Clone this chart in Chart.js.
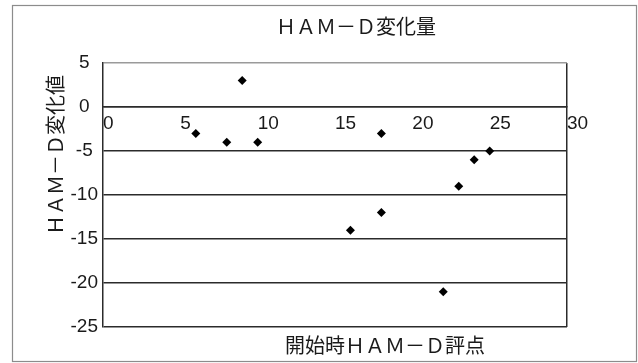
<!DOCTYPE html>
<html lang="ja">
<head>
<meta charset="utf-8">
<script src="https://cdn.jsdelivr.net/npm/chart.js@4/dist/chart.umd.min.js"></script>
<style>
  html, body { margin: 0; padding: 0; background: #fff; }
  canvas { display: block; }
</style>
</head>
<body>
<canvas id="c" width="638" height="363"></canvas>
<script>
// 開始時評点とその変化値（症例ごと）
const baselineScores = [6, 8, 9, 10, 16, 18, 18, 22, 23, 24, 25];
const scoreChanges   = [-3, -4, 3, -4, -14, -3, -12, -21, -9, -6, -5];

// 軸目盛
const xTickValues = [0, 5, 10, 15, 20, 25, 30];
const yTickValues = [5, 0, -5, -10, -15, -20, -25];

// 見出し
const chartTitle = 'ＨＡＭ－Ｄ変化量';
const xAxisTitle = '開始時ＨＡＭ－Ｄ評点';
const yAxisTitle = 'ＨＡＭ－Ｄ変化値';

const points = baselineScores.map((x, i) => ({ x: x, y: scoreChanges[i] }));

const TEXT = '#1a1a1a';
const LINE = '#2b2b2b';
const JP_FONT = '"Noto Sans CJK JP", "Noto Sans", sans-serif';
const NUM_FONT = '"Liberation Sans", Arial, sans-serif';

// 背景・外枠・見出しの描画
const framePlugin = {
  id: 'frame',
  beforeDraw(chart) {
    const ctx = chart.ctx;
    ctx.save();
    ctx.fillStyle = '#ffffff';
    ctx.fillRect(0, 0, chart.width, chart.height);
    ctx.strokeStyle = '#8c8c8c';
    ctx.lineWidth = 1.2;
    ctx.strokeRect(12.5, 5.5, 624, 356);
    ctx.restore();
  },
  afterDraw(chart) {
    const ctx = chart.ctx;
    ctx.save();
    ctx.fillStyle = TEXT;
    ctx.font = '20px ' + JP_FONT;
    ctx.textAlign = 'center';
    ctx.textBaseline = 'middle';
    ctx.fillText(chartTitle, 356, 26);
    ctx.fillText(xAxisTitle, 385, 345);
    ctx.translate(55, 155);
    ctx.rotate(-Math.PI / 2);
    ctx.fillText(yAxisTitle, 0, 0);
    ctx.restore();
  }
};

new Chart(document.getElementById('c'), {
  type: 'scatter',
  data: {
    datasets: [{
      data: points,
      pointStyle: 'rectRot',
      pointRadius: 4.5,
      pointHoverRadius: 4.5,
      backgroundColor: '#000',
      borderColor: '#000',
      borderWidth: 0
    }]
  },
  options: {
    responsive: false,
    animation: false,
    events: [],
    layout: { padding: { left: 12, right: 71, top: 63, bottom: 36 } },
    plugins: {
      legend: { display: false },
      title: { display: false },
      tooltip: { enabled: false }
    },
    scales: {
      x: {
        type: 'linear',
        position: { y: 0 },
        min: 0,
        max: 30,
        afterBuildTicks(scale) {
          scale.ticks = xTickValues.map(v => ({ value: v }));
        },
        ticks: {
          align: 'start',
          padding: 5,
          color: TEXT,
          font: { family: NUM_FONT, size: 19 },
          callback: (v) => String(v)
        },
        grid: {
          drawTicks: false,
          lineWidth: 1.5,
          color: (c) => (c.tick && c.tick.value === 30 ? LINE : 'rgba(0,0,0,0)')
        },
        border: { display: true, color: LINE, width: 1.5 }
      },
      y: {
        type: 'linear',
        min: -25,
        max: 5,
        afterBuildTicks(scale) {
          scale.ticks = yTickValues.map(v => ({ value: v }));
        },
        afterFit(scale) { scale.width = 91; },
        ticks: {
          crossAlign: 'center',
          padding: 5,
          color: TEXT,
          font: { family: NUM_FONT, size: 19 },
          callback: (v) => String(v)
        },
        grid: {
          drawTicks: false,
          lineWidth: 1.5,
          color: (c) => (c.tick && c.tick.value === 5 ? '#9a9a9a' : LINE)
        },
        border: { display: true, color: LINE, width: 1.5 }
      }
    }
  },
  plugins: [framePlugin]
});
</script>
</body>
</html>
